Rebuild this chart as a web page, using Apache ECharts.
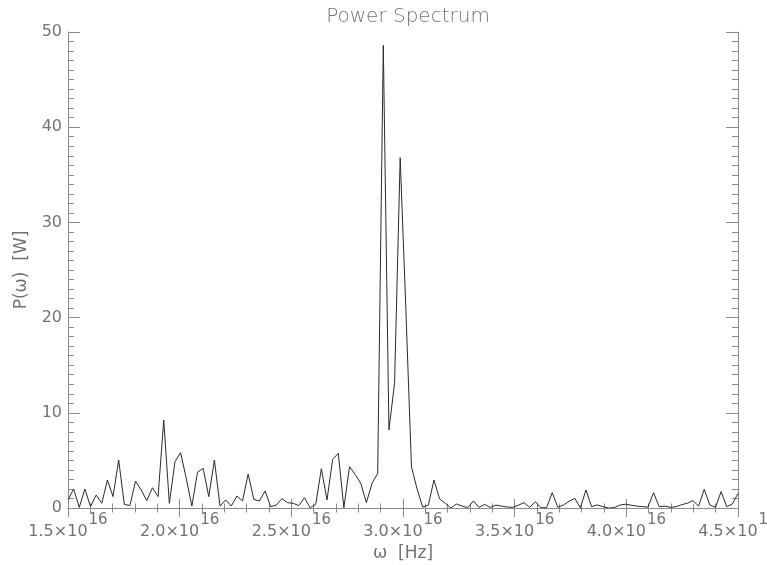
<!DOCTYPE html>
<html>
<head>
<meta charset="utf-8">
<script src="https://cdn.jsdelivr.net/npm/echarts@6/dist/echarts.min.js"></script>
<style>
  html, body { margin: 0; padding: 0; background: #fff; }
  #chart { width: 767px; height: 565px; }
</style>
</head>
<body>
<div id="chart"></div>
<script>
// Angular frequency samples, in units of 1e16 Hz
const omega = [
  1.5000, 1.5252, 1.5504, 1.5756, 1.6008, 1.6261, 1.6513, 1.6765, 1.7017, 1.7269,
  1.7521, 1.7773, 1.8025, 1.8277, 1.8529, 1.8782, 1.9034, 1.9286, 1.9538, 1.9790,
  2.0042, 2.0294, 2.0546, 2.0798, 2.1050, 2.1303, 2.1555, 2.1807, 2.2059, 2.2311,
  2.2563, 2.2815, 2.3067, 2.3319, 2.3571, 2.3824, 2.4076, 2.4328, 2.4580, 2.4832,
  2.5084, 2.5336, 2.5588, 2.5840, 2.6092, 2.6345, 2.6597, 2.6849, 2.7101, 2.7353,
  2.7605, 2.7857, 2.8109, 2.8361, 2.8613, 2.8866, 2.9118, 2.9370, 2.9622, 2.9874,
  3.0126, 3.0378, 3.0630, 3.0882, 3.1134, 3.1387, 3.1639, 3.1891, 3.2143, 3.2395,
  3.2647, 3.2899, 3.3151, 3.3403, 3.3655, 3.3908, 3.4160, 3.4412, 3.4664, 3.4916,
  3.5168, 3.5420, 3.5672, 3.5924, 3.6176, 3.6429, 3.6681, 3.6933, 3.7185, 3.7437,
  3.7689, 3.7941, 3.8193, 3.8445, 3.8697, 3.8950, 3.9202, 3.9454, 3.9706, 3.9958,
  4.0210, 4.0462, 4.0714, 4.0966, 4.1218, 4.1471, 4.1723, 4.1975, 4.2227, 4.2479,
  4.2731, 4.2983, 4.3235, 4.3487, 4.3739, 4.3992, 4.4244, 4.4496, 4.4748, 4.5000
];

// Spectral power P(omega), W
const power = [
  0.84, 2.00, 0.07, 2.00, 0.15, 1.36, 0.50, 2.94, 1.20, 5.04,
  0.38, 0.25, 2.83, 1.89, 0.77, 2.13, 1.20, 9.24, 0.49, 4.87,
  5.81, 3.12, 0.21, 3.75, 4.17, 1.20, 5.04, 0.21, 0.84, 0.21,
  1.26, 0.74, 3.57, 0.91, 0.74, 1.79, 0.14, 0.32, 0.98, 0.56,
  0.49, 0.25, 1.08, 0.03, 0.38, 4.13, 0.84, 5.11, 5.74, 0.03,
  4.34, 3.54, 2.59, 0.56, 2.59, 3.64, 48.6, 8.20, 13.1, 36.8,
  21.0, 4.34, 2.00, 0.10, 0.30, 2.94, 0.95, 0.50, 0.00, 0.42,
  0.20, 0.03, 0.74, 0.07, 0.38, 0.07, 0.30, 0.20, 0.10, 0.07,
  0.30, 0.56, 0.07, 0.67, 0.03, 0.03, 1.61, 0.07, 0.32, 0.70,
  1.02, 0.03, 1.89, 0.14, 0.32, 0.14, 0.00, 0.03, 0.30, 0.40,
  0.30, 0.20, 0.15, 0.10, 1.61, 0.14, 0.20, 0.07, 0.14, 0.35,
  0.50, 0.77, 0.20, 1.96, 0.32, 0.07, 1.72, 0.14, 0.42, 1.54
];

const xTicks = { min: 1.5, max: 4.5, step: 0.5 };
const yTicks = { min: 0, max: 50, step: 10 };

const FONT = 'DejaVu Sans';
const TEXT = '#737373';
const AXIS = '#8a8a8a';

const chart = echarts.init(document.getElementById('chart'), null, { renderer: 'canvas' });

const axisLine = { show: true, lineStyle: { color: AXIS, width: 1 } };

function xAxisDef(pos, labels) {
  return {
    type: 'value',
    position: pos,
    min: xTicks.min, max: xTicks.max, interval: xTicks.step,
    axisLine: axisLine,
    axisTick: { show: true, inside: true, length: 9, lineStyle: { color: AXIS } },
    minorTick: { show: true, splitNumber: 5, length: 4.5, lineStyle: { color: AXIS } },
    splitLine: { show: false },
    axisLabel: labels ? {
      show: true,
      margin: 5,
      hideOverlap: false,
      formatter: v => '{b|' + v.toFixed(1) + '×10}{s|16}',
      rich: {
        b: { fontFamily: FONT, fontSize: 16, color: TEXT, verticalAlign: 'bottom', lineHeight: 27 },
        s: { fontFamily: FONT, fontSize: 15, color: TEXT, verticalAlign: 'top', lineHeight: 27, padding: [0, 0, 0, 1] }
      }
    } : { show: false },
    name: labels ? 'ω  [Hz]' : '',
    nameLocation: 'middle',
    nameGap: 29,
    nameTextStyle: { fontFamily: FONT, fontSize: 17, color: TEXT }
  };
}

function yAxisDef(pos, labels) {
  return {
    type: 'value',
    position: pos,
    min: yTicks.min, max: yTicks.max, interval: yTicks.step,
    axisLine: axisLine,
    axisTick: { show: true, inside: true, length: 12, lineStyle: { color: AXIS } },
    minorTick: { show: true, splitNumber: 10, length: 6, lineStyle: { color: AXIS } },
    splitLine: { show: false },
    axisLabel: labels ? {
      show: true, margin: 6,
      fontFamily: FONT, fontSize: 16, color: TEXT
    } : { show: false },
    name: labels ? 'P(ω)  [W]' : '',
    nameLocation: 'middle',
    nameGap: 38,
    nameTextStyle: { fontFamily: FONT, fontSize: 17, color: TEXT }
  };
}

chart.setOption({
  animation: false,
  backgroundColor: '#ffffff',
  title: {
    text: 'Power Spectrum',
    left: 403,
    top: 2,
    textAlign: 'center',
    textStyle: { fontFamily: FONT, fontSize: 20, fontWeight: 200, color: TEXT }
  },
  grid: { left: 68, right: 29, top: 32, bottom: 57, containLabel: false, outerBoundsMode: 'none' },
  xAxis: [xAxisDef('bottom', true), xAxisDef('top', false)],
  yAxis: [yAxisDef('left', true), yAxisDef('right', false)],
  series: [{
    type: 'line',
    xAxisIndex: 0,
    yAxisIndex: 0,
    data: omega.map((w, i) => [w, power[i]]),
    showSymbol: false,
    clip: true,
    lineStyle: { color: '#2a2a2a', width: 1 }
  }]
});
</script>
</body>
</html>
